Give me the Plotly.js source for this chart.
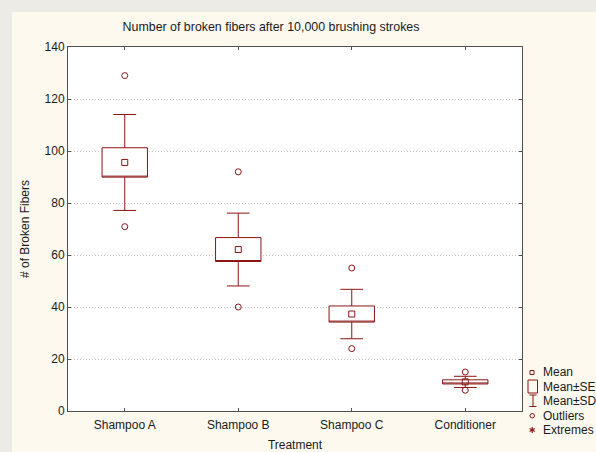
<!DOCTYPE html>
<html>
<head>
<meta charset="utf-8">
<script src="https://cdn.plot.ly/plotly-3.0.1.min.js"></script>
<style>html,body{margin:0;padding:0;background:#fdf9ef;}#chart{width:596px;height:452px;}</style>
</head>
<body>
<div id="chart"></div>
<script>
// ---- data ----
var categories = ['Shampoo A', 'Shampoo B', 'Shampoo C', 'Conditioner'];
var means = [95.6, 62.1, 37.3, 11.2];
var stdErrs = [5.65, 4.6, 3.1, 0.8];
var stdDevs = [18.45, 14.0, 9.5, 2.15];
var outlierCats = ['Shampoo A', 'Shampoo A', 'Shampoo B', 'Shampoo B', 'Shampoo C', 'Shampoo C', 'Conditioner', 'Conditioner'];
var outlierVals = [129.0, 70.9, 92.0, 40.0, 55.0, 24.0, 15.0, 8.0];
var yTickVals = [0, 20, 40, 60, 80, 100, 120, 140];

var RED = '#8b1414';
var FONT = 'Liberation Sans, Arial, sans-serif';
var TXT = '#1a1a1a';

var seLow = means.map(function (m, i) { return m - stdErrs[i]; });
var seHigh = means.map(function (m, i) { return m + stdErrs[i]; });
var sdLow = means.map(function (m, i) { return m - stdDevs[i]; });
var sdHigh = means.map(function (m, i) { return m + stdDevs[i]; });

var traces = [
  {
    type: 'box', x: categories, q1: seLow, median: seLow, q3: seHigh,
    lowerfence: sdLow, upperfence: sdHigh,
    width: 0.4, whiskerwidth: 0.5, fillcolor: 'white',
    line: {color: RED, width: 1}, boxpoints: false, showlegend: false, hoverinfo: 'skip'
  },
  {
    type: 'scatter', mode: 'markers', x: categories, y: means, showlegend: false,
    marker: {symbol: 'square-open', size: 6, color: RED, line: {width: 1, color: RED}}
  },
  {
    type: 'scatter', mode: 'markers', x: outlierCats, y: outlierVals, showlegend: false,
    marker: {symbol: 'circle-open', size: 6, color: RED, line: {width: 1, color: RED}}
  }
];

// pixel -> paper helpers for decorations (plot area 68..522 x 47..411)
var L = 68, R = 522, T = 47, B = 411;
function px(x) { return (x - L) / (R - L); }
function py(y) { return (B - y) / (B - T); }

var shapes = [
  // grey outer strips
  {type: 'rect', xref: 'paper', yref: 'paper', x0: px(0), x1: px(12), y0: py(452), y1: py(0), fillcolor: '#ecebe6', line: {width: 0}, layer: 'below'},
  {type: 'rect', xref: 'paper', yref: 'paper', x0: px(0), x1: px(596), y0: py(12), y1: py(0), fillcolor: '#ecebe6', line: {width: 0}, layer: 'below'},
  // legend icons
  {type: 'rect', xref: 'paper', yref: 'paper', x0: px(530), x1: px(534), y0: py(374.5), y1: py(370.5), line: {color: RED, width: 1}},
  {type: 'rect', xref: 'paper', yref: 'paper', x0: px(528), x1: px(537.5), y0: py(393), y1: py(380), line: {color: RED, width: 1}},
  {type: 'line', xref: 'paper', yref: 'paper', x0: px(533), x1: px(533), y0: py(406.5), y1: py(395), line: {color: RED, width: 1}},
  {type: 'line', xref: 'paper', yref: 'paper', x0: px(529.5), x1: px(536.5), y0: py(395), y1: py(395), line: {color: RED, width: 1}},
  {type: 'line', xref: 'paper', yref: 'paper', x0: px(529.5), x1: px(536.5), y0: py(406.5), y1: py(406.5), line: {color: RED, width: 1}},
  {type: 'circle', xref: 'paper', yref: 'paper', x0: px(530), x1: px(534.5), y0: py(418), y1: py(413.5), line: {color: RED, width: 1}},
  {type: 'line', xref: 'paper', yref: 'paper', x0: px(532.2), x1: px(532.2), y0: py(433), y1: py(427), line: {color: RED, width: 1.2}},
  {type: 'line', xref: 'paper', yref: 'paper', x0: px(529.6), x1: px(534.8), y0: py(431.5), y1: py(428.5), line: {color: RED, width: 1.2}},
  {type: 'line', xref: 'paper', yref: 'paper', x0: px(529.6), x1: px(534.8), y0: py(428.5), y1: py(431.5), line: {color: RED, width: 1.2}}
];

var legendLabels = ['Mean', 'Mean±SE', 'Mean±SD', 'Outliers', 'Extremes'];
var legendRows = [372.3, 386.7, 401, 416, 430.3];
var annotations = legendLabels.map(function (t, i) {
  return {xref: 'paper', yref: 'paper', x: px(541), y: py(legendRows[i]), xanchor: 'left', yanchor: 'middle',
    text: t, showarrow: false, font: {family: FONT, size: 12, color: TXT}};
});

var layout = {
  width: 596, height: 452,
  paper_bgcolor: '#fdf9ef', plot_bgcolor: '#ffffff',
  margin: {l: L, r: 596 - R, t: T, b: 452 - B, pad: 0},
  showlegend: false,
  font: {family: FONT, size: 12, color: TXT},
  title: {text: 'Number of broken fibers after 10,000 brushing strokes', x: px(271), xref: 'paper', xanchor: 'center',
    y: 1 - 27 / 452, yref: 'container', yanchor: 'middle', font: {family: FONT, size: 12.4, color: TXT}},
  xaxis: {
    type: 'category', categoryarray: categories, range: [-0.5, 3.5],
    showline: true, linecolor: '#505050', linewidth: 1, mirror: 'ticks',
    ticks: 'inside', ticklen: 3, tickcolor: '#505050', showgrid: false, zeroline: false,
    ticklabelstandoff: 3,
    tickfont: {family: FONT, size: 12, color: TXT},
    title: {text: 'Treatment', standoff: 14, font: {family: FONT, size: 12, color: TXT}},
    automargin: false, fixedrange: true
  },
  yaxis: {
    range: [0, 140], tickvals: yTickVals, ticktext: yTickVals.map(String),
    showline: true, linecolor: '#505050', linewidth: 1, mirror: 'ticks',
    ticks: 'inside', ticklen: 3, tickcolor: '#505050',
    showgrid: true, gridcolor: '#c4c4c4', griddash: '1px,2px', gridwidth: 1, zeroline: false,
    tickfont: {family: FONT, size: 12, color: TXT},
    title: {text: '# of Broken Fibers', standoff: 12, font: {family: FONT, size: 12, color: TXT}},
    automargin: false, fixedrange: true
  },
  shapes: shapes,
  annotations: annotations
};

Plotly.newPlot('chart', traces, layout, {displayModeBar: false, staticPlot: true});
</script>
</body>
</html>
